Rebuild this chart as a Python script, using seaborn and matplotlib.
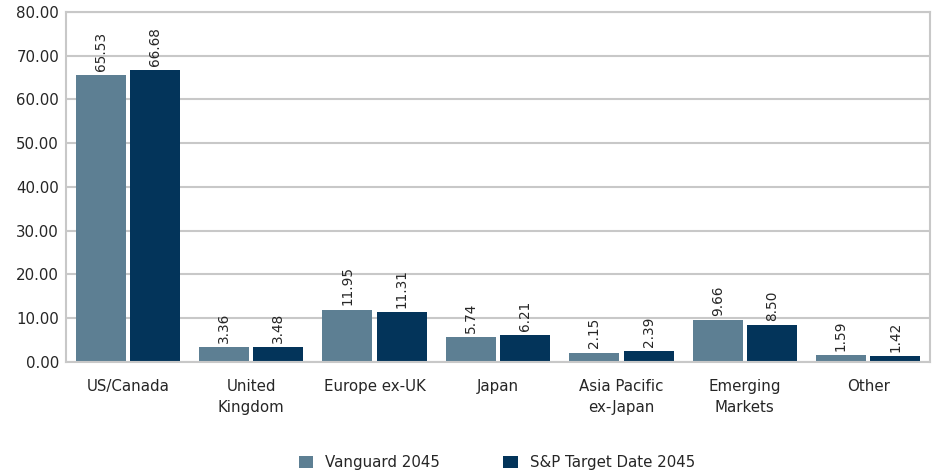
import matplotlib
matplotlib.use("Agg")
import matplotlib.pyplot as plt
import seaborn as sns
import pandas as pd
from matplotlib.patches import Patch

regions = ["US/Canada", "United\nKingdom", "Europe ex-UK", "Japan",
           "Asia Pacific\nex-Japan", "Emerging\nMarkets", "Other"]
vanguard_2045 = [65.53, 3.36, 11.95, 5.74, 2.15, 9.66, 1.59]
sp_target_2045 = [66.68, 3.48, 11.31, 6.21, 2.39, 8.50, 1.42]
series_names = ["Vanguard 2045", "S&P Target Date 2045"]
y_ticks = [0, 10, 20, 30, 40, 50, 60, 70, 80]

colors = ["#5d7f93", "#03345a"]
grid_color = "#c8c8c8"
text_color = "#262626"

df = pd.DataFrame({
    "Region": regions * 2,
    "Value": vanguard_2045 + sp_target_2045,
    "Series": [series_names[0]] * len(regions) + [series_names[1]] * len(regions),
})

sns.set_theme(style="white")
plt.rcParams["font.family"] = ["DejaVu Sans"]

fig = plt.figure(figsize=(9.36, 4.75), dpi=100)
ax = fig.add_axes([0.0705, 0.238, 0.923, 0.737])

sns.barplot(data=df, x="Region", y="Value", hue="Series", palette=colors,
            width=0.88, gap=0.08, ax=ax, legend=False, saturation=1,
            linewidth=0)

ax.set_ylim(0, 80)
ax.set_yticks(y_ticks)
ax.set_yticklabels([f"{v:.2f}" for v in y_ticks], fontsize=10.8, color=text_color)
ax.set_xlim(-0.5, len(regions) - 0.5)
ax.set_xlabel("")
ax.set_ylabel("")
ax.tick_params(axis="x", length=0, pad=12, labelsize=10.8, labelcolor=text_color)
for lbl in ax.get_xticklabels():
    lbl.set_linespacing(1.55)
ax.tick_params(axis="y", length=0, pad=5)
ax.yaxis.grid(True, color=grid_color, linewidth=1.5)
ax.set_axisbelow(True)
for s in ax.spines.values():
    s.set_visible(True)
    s.set_color(grid_color)
    s.set_linewidth(1.5)

for container in ax.containers:
    ax.bar_label(container, labels=[f"{v:.2f}" for v in container.datavalues],
                 rotation=90, padding=3, fontsize=9.8, color=text_color)

handles = [Patch(facecolor=c, edgecolor="none") for c in colors]
fig.legend(handles, series_names, loc="center", bbox_to_anchor=(0.531, 0.026),
           ncol=2, frameon=False, fontsize=10.8, handlelength=0.95,
           handleheight=0.95, handletextpad=0.8, columnspacing=4.2,
           labelcolor=text_color)

fig.savefig("out.png", dpi=100)
